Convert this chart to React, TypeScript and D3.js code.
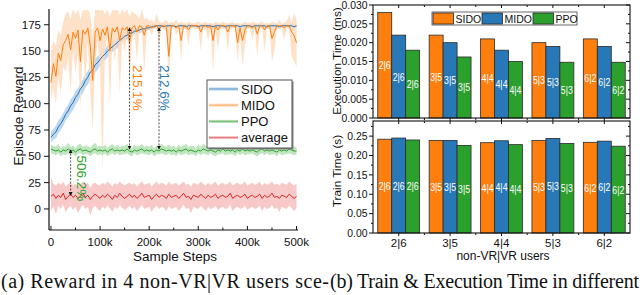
import React from "react";
import * as d3 from "d3";

// ---- left chart: episode reward vs sample steps (one value every 5k steps) ----
const steps = d3.range(101).map((i) => i * 5000);

const sidoMean = [68,71,73,78,81,85,90,93,98,101,106,109,114,117,122,125,130,132,137,139,142,145,147,150,152,154,156,158,160,162,164,165,167,167,169,169,170,171,171,172,172,173,173,174,174,174,173,174,174,174,174,173,174,174,174,173,174,174,174,174,173,174,174,174,174,174,173,174,174,174,174,173,174,174,174,174,174,173,174,174,174,174,173,174,174,174,174,174,173,174,174,174,174,173,174,174,174,174,174,173,174];
const sidoLo = [63,66,67,72,75,79,84,87,91,94,99,102,107,110,115,118,123,125,130,132,136,139,141,144,147,149,151,153,155,158,160,161,163,164,166,166,167,168,168,169,170,171,171,172,172,172,171,172,172,172,172,171,172,172,172,171,172,172,172,172,171,172,172,172,172,172,171,172,172,172,172,171,172,172,172,172,172,171,172,172,172,172,171,172,172,172,172,172,171,172,172,172,172,171,172,172,172,172,172,171,172];
const sidoHi = [74,76,79,84,87,91,96,99,104,107,112,115,120,123,128,131,136,138,143,145,148,150,152,155,157,159,161,163,164,166,168,169,170,170,172,172,173,173,174,175,175,175,175,176,176,176,175,176,176,176,176,175,176,176,176,175,176,176,176,176,175,176,176,176,176,176,175,176,176,176,176,175,176,176,176,176,176,175,176,176,176,176,175,176,176,176,176,176,175,176,176,176,176,175,176,176,176,176,176,175,176];

const midoMean = [120,138,126,148,141,156,160,166,151,168,162,170,140,170,166,172,155,122,168,172,160,171,165,173,150,172,168,173,160,172,170,173,158,172,174,168,174,173,165,174,174,172,174,174,170,174,174,173,145,174,174,172,174,160,174,174,170,174,174,174,174,168,174,174,172,174,160,174,170,174,174,174,168,174,174,174,158,172,160,170,174,174,172,174,166,174,174,170,174,174,162,168,174,174,174,172,174,174,168,165,158];
const midoLo = [105,115,100,125,110,135,130,145,110,150,130,150,95,155,120,160,110,75,140,160,130,35,150,165,100,160,140,165,110,160,150,168,120,160,170,140,170,168,130,170,171,165,171,172,155,172,171,168,120,171,172,165,171,140,172,170,155,172,172,171,172,150,172,171,160,172,130,172,150,171,172,172,150,171,172,172,140,165,135,155,171,172,160,172,145,171,172,150,172,171,140,150,172,171,172,160,172,171,145,140,135];
const midoHi = [150,160,155,170,165,178,185,188,180,190,185,190,180,190,188,190,185,165,190,190,188,190,185,190,182,190,188,190,184,190,186,190,182,188,186,184,180,190,180,182,178,180,177,186,178,177,178,180,176,178,177,180,176,178,177,176,178,177,176,177,178,176,177,178,176,177,176,178,177,176,178,177,176,177,178,176,177,176,176,178,177,176,178,177,176,177,178,176,177,176,178,177,176,180,176,177,178,185,176,186,180];

const ppoMean = [57,56,55,56,54,56,55,57,55,56,54,56,57,55,56,55,54,56,57,55,56,55,56,54,56,57,55,56,55,56,55,57,55,54,56,55,56,57,55,56,55,56,54,56,55,57,56,55,56,55,56,54,56,55,56,57,55,56,55,54,56,55,57,56,55,56,55,54,56,55,57,55,56,55,56,54,56,55,57,55,56,55,56,55,54,56,57,55,56,55,56,55,54,56,55,56,55,57,56,55,55];
const ppoLo = [53,52,51,53,50,52,51,53,52,52,50,53,53,51,52,52,50,52,53,51,52,51,53,50,52,53,51,53,51,52,52,53,51,50,53,51,52,53,52,52,51,53,50,52,52,53,52,51,53,51,52,50,53,51,52,53,51,52,52,50,53,51,53,52,51,53,51,50,52,52,53,51,52,52,52,50,53,51,53,51,52,52,53,51,50,52,53,51,53,51,52,52,50,53,51,52,52,53,52,51,52];
const ppoHi = [61,60,59,62,58,60,59,63,59,60,58,61,62,59,60,60,58,61,63,59,60,59,61,58,60,62,59,61,59,60,60,62,59,58,61,59,60,62,59,60,59,61,58,60,60,62,60,59,61,59,60,58,61,59,60,62,59,60,60,58,61,59,62,60,59,61,59,58,60,60,62,59,60,60,60,58,61,59,62,59,60,60,61,59,58,60,62,59,61,59,60,60,58,61,59,60,60,62,60,59,59];

const avgMean = [12,14,10,13,11,15,9,12,14,11,13,10,12,15,11,13,9,12,14,12,10,13,11,14,12,9,13,11,15,12,10,12,14,11,13,10,12,15,11,12,13,9,12,14,11,13,12,10,14,11,12,13,10,12,15,11,12,9,13,12,11,14,12,10,13,11,12,14,10,12,13,11,12,15,10,12,13,11,12,14,10,12,13,11,12,14,10,13,11,12,15,11,12,10,13,12,11,14,12,10,12];
const avgLo = [-2,2,-5,3,0,4,-3,1,3,-1,2,-4,1,4,0,2,-6,1,3,0,-2,2,0,3,1,-3,2,0,4,1,-1,1,3,0,2,-2,1,4,0,1,2,-3,1,3,0,2,1,-2,3,0,1,2,-2,1,4,0,1,-4,2,1,0,3,1,-2,2,0,1,3,-1,1,2,0,1,4,-2,1,2,0,1,3,-1,1,2,0,1,3,-2,2,0,1,4,0,1,-3,2,1,0,3,1,-2,1];
const avgHi = [30,24,22,25,23,26,21,24,25,22,24,21,24,26,23,25,20,24,25,23,22,25,23,26,24,21,25,23,26,24,22,24,25,23,25,21,24,26,23,24,25,21,24,26,23,25,24,22,26,23,24,25,22,24,26,23,24,21,25,24,23,26,24,22,25,23,24,26,22,24,25,23,24,26,22,24,25,23,24,26,22,24,25,23,24,26,22,25,23,24,26,23,24,22,25,24,23,26,24,22,24];

const rewardTicks = [0, 25, 50, 75, 100, 125, 150, 175];
const stepTicks = [0, 100000, 200000, 300000, 400000, 500000];
const stepTickLabels = ["0", "100k", "200k", "300k", "400k", "500k"];

// ---- right chart: execution / train time ----
const groups = ["2|6", "3|5", "4|4", "5|3", "6|2"];
const algos = ["SIDO", "MIDO", "PPO"];
const execSIDO = [0.028, 0.022, 0.021, 0.02, 0.021];
const execMIDO = [0.022, 0.02, 0.018, 0.019, 0.019];
const execPPO = [0.018, 0.0162, 0.015, 0.0148, 0.0148];
const trainSIDO = [0.242, 0.239, 0.233, 0.239, 0.234];
const trainMIDO = [0.245, 0.239, 0.238, 0.244, 0.237];
const trainPPO = [0.24, 0.226, 0.228, 0.231, 0.224];

const SANS = "Liberation Sans, Arial, sans-serif";
const SERIF = "Liberation Serif, Times New Roman, serif";

export default function App() {
  // left panel scales
  const x = d3.scaleLinear().domain([-4000, 503000]).range([49, 298]);
  const y = d3.scaleLinear().domain([-20, 189]).range([230, 10]);

  const lineOf = (vals: number[]) =>
    d3.line<number>().x((_, i) => x(steps[i])).y((d) => y(d))(vals) || "";
  const areaOf = (lo: number[], hi: number[]) =>
    d3
      .area<number>()
      .x((_, i) => x(steps[i]))
      .y0((d) => y(d))
      .y1((_, i) => y(hi[i]))(lo) || "";

  const series = [
    { name: "SIDO", mean: sidoMean, lo: sidoLo, hi: sidoHi, color: "#2070b4", light: "#b3d1ec" },
    { name: "MIDO", mean: midoMean, lo: midoLo, hi: midoHi, color: "#ff7f0e", light: "#ffdcbe" },
    { name: "PPO", mean: ppoMean, lo: ppoLo, hi: ppoHi, color: "#2ca02c", light: "#b5e0b5" },
    { name: "average", mean: avgMean, lo: avgLo, hi: avgHi, color: "#d62728", light: "#f6c0c0" },
  ];

  const arrows = [
    { step: 160000, from: 172, to: 57 },
    { step: 220000, from: 172, to: 57 },
    { step: 40000, from: 56, to: 13 },
  ];
  const notes = [
    { text: "215.1%", step: 176000, value: 115, color: "#ff7f0e" },
    { text: "212.6%", step: 231000, value: 115, color: "#2a7ab8" },
    { text: "506.2%", step: 62000, value: 29, color: "#2ca02c" },
  ];

  // right panel scales
  const gx = d3.scaleBand().domain(groups).range([373, 630]).padding(0);
  const sx = d3
    .scaleBand()
    .domain(algos)
    .range([0, gx.bandwidth()])
    .paddingInner(0)
    .paddingOuter(0.34);
  const yExec = d3.scaleLinear().domain([0, 0.03]).range([118, 5]);
  const yTrain = d3.scaleLinear().domain([0, 0.289]).range([233, 121]);
  const barColors = ["#ff7f0e", "#2878b8", "#2ca02c"];
  const legendX = [433, 482, 533];

  const panels = [
    { ys: yExec, vals: [execSIDO, execMIDO, execPPO], ticks: d3.range(0, 0.0301, 0.005), fmt: d3.format(".3f"), step: 0.0025, top: 0.03, label: "Execution Time (ms)" },
    { ys: yTrain, vals: [trainSIDO, trainMIDO, trainPPO], ticks: d3.range(0, 0.251, 0.05), fmt: d3.format(".2f"), step: 0.025, top: 0.289, label: "Train Time (s)" },
  ];

  const midTicks = groups.map((g) => (gx(g) as number) + gx.bandwidth() / 2);

  return (
    <svg width={640} height={295} style={{ position: "absolute", left: 0, top: 0, background: "#fff" }}>
      <defs>
        <clipPath id="plotL">
          <rect x={49} y={10} width={249} height={220} />
        </clipPath>
        <marker id="arr" viewBox="0 0 6 6" refX={5} refY={3} markerWidth={5} markerHeight={5} orient="auto-start-reverse">
          <path d="M0,0 L6,3 L0,6 z" fill="#111" />
        </marker>
      </defs>

      {/* ---------- left chart ---------- */}
      <g clipPath="url(#plotL)">
        {series.map((s) => (
          <path key={s.name + "b"} d={areaOf(s.lo, s.hi)} fill={s.light} opacity={0.85} />
        ))}
        {series.map((s) => (
          <path key={s.name + "l"} d={lineOf(s.mean)} fill="none" stroke={s.color} strokeWidth={1} />
        ))}
      </g>

      {arrows.map((a, i) => (
        <line
          key={i}
          x1={x(a.step)}
          x2={x(a.step)}
          y1={y(a.from)}
          y2={y(a.to)}
          stroke="#222"
          strokeWidth={0.8}
          strokeDasharray="2,1.5"
          markerStart="url(#arr)"
          markerEnd="url(#arr)"
        />
      ))}
      {notes.map((n) => (
        <text
          key={n.text}
          transform={`translate(${x(n.step)},${y(n.value)}) rotate(90)`}
          textAnchor="middle"
          dominantBaseline="central"
          fontFamily={SANS}
          fontSize={13.5}
          fill={n.color}
        >
          {n.text}
        </text>
      ))}

      {/* axes */}
      <line x1={49} x2={49} y1={9} y2={230} stroke="#111" strokeWidth={1.2} />
      <line x1={49} x2={298} y1={230} y2={230} stroke="#111" strokeWidth={1.2} />
      {rewardTicks.map((t) => (
        <g key={t}>
          <line x1={44} x2={49} y1={y(t)} y2={y(t)} stroke="#111" />
          <text x={41} y={y(t) + 4} textAnchor="end" fontFamily={SANS} fontSize={11.5} fill="#111">
            {t}
          </text>
        </g>
      ))}
      {stepTicks.map((t, i) => (
        <g key={t}>
          <line x1={x(t)} x2={x(t)} y1={230} y2={226} stroke="#111" />
          {i < 5 && <line x1={x(t + 50000)} x2={x(t + 50000)} y1={230} y2={227.5} stroke="#111" />}
          <text x={x(t)} y={245.5} textAnchor="middle" fontFamily={SANS} fontSize={11.5} fill="#111">
            {stepTickLabels[i]}
          </text>
        </g>
      ))}
      <text x={175} y={260.5} textAnchor="middle" fontFamily={SANS} fontSize={13.5} fill="#111">
        Sample Steps
      </text>
      <text transform="translate(23,116) rotate(-90)" textAnchor="middle" fontFamily={SANS} fontSize={13.5} fill="#111">
        Episode Reward
      </text>

      {/* legend */}
      <rect x={208.5} y={81.5} width={85} height={68} fill="#888" />
      <rect x={207} y={80} width={85} height={68} fill="#fff" stroke="#555" strokeWidth={1} />
      {series.map((s, i) => (
        <g key={s.name} transform={`translate(0,${89 + i * 16.2})`}>
          <line x1={209} x2={238} y1={0} y2={0} stroke={s.light} strokeWidth={3} />
          <line x1={209} x2={238} y1={0} y2={0} stroke={s.color} strokeWidth={0.8} opacity={0.6} />
          <text x={241} y={4.5} fontFamily={SANS} fontSize={13} fill="#111">
            {s.name}
          </text>
        </g>
      ))}

      {/* ---------- right chart ---------- */}
      {panels.map((p, pi) => {
        const [y0, y1] = p.ys.range();
        const minor = d3.range(0, p.top + 1e-9, p.step);
        return (
          <g key={pi}>
            {p.vals.map((vals, si) =>
              groups.map((g, gi) => {
                const bx = (gx(g) as number) + (sx(algos[si]) as number);
                const by = p.ys(vals[gi]);
                return (
                  <g key={g + si}>
                    <rect x={bx} y={by} width={sx.bandwidth()} height={y0 - by} fill={barColors[si]} stroke="#2a2a2a" strokeWidth={0.8} />
                    <text
                      x={bx + sx.bandwidth() / 2}
                      y={(by + y0) / 2 + 4}
                      textAnchor="middle"
                      fontFamily={SANS}
                      fontSize={11}
                      fill="#fff"
                      textLength={12}
                      lengthAdjust="spacingAndGlyphs"
                    >
                      {g}
                    </text>
                  </g>
                );
              })
            )}
            <rect x={373} y={y1} width={257} height={y0 - y1} fill="none" stroke="#111" strokeWidth={1.1} />
            {minor.map((t, i) => (
              <g key={i}>
                <line x1={i % 2 ? 371 : 369} x2={373} y1={p.ys(t)} y2={p.ys(t)} stroke="#111" />
                <line x1={630} x2={i % 2 ? 628 : 626} y1={p.ys(t)} y2={p.ys(t)} stroke="#111" />
              </g>
            ))}
            {p.ticks.map((t) => (
              <text key={t} x={367.5} y={p.ys(t) + 3.8} textAnchor="end" fontFamily={SANS} fontSize={10.4} fill="#111">
                {p.fmt(t)}
              </text>
            ))}
            {midTicks.map((mx, i) => (
              <g key={i}>
                <line x1={mx} x2={mx} y1={y1} y2={y1 + 3} stroke="#111" />
                <line x1={mx} x2={mx} y1={y0} y2={y0 + 3} stroke="#111" />
                {i < 4 && (
                  <>
                    <line x1={mx + gx.step() / 2} x2={mx + gx.step() / 2} y1={y1} y2={y1 + 2} stroke="#111" />
                    <line x1={mx + gx.step() / 2} x2={mx + gx.step() / 2} y1={y0} y2={y0 + 2} stroke="#111" />
                  </>
                )}
              </g>
            ))}
            <text
              transform={`translate(340.5,${pi ? 171 : 61}) rotate(-90)`}
              textAnchor="middle"
              fontFamily={SANS}
              fontSize={11.8}
              fill="#111"
            >
              {p.label}
            </text>
          </g>
        );
      })}

      {/* right legend */}
      <rect x={432} y={12} width={145} height={13} fill="#fff" stroke="#444" strokeWidth={0.8} />
      {algos.map((a, i) => (
        <g key={a} transform={`translate(${legendX[i]},13)`}>
          <rect x={0} y={0} width={20.5} height={11} fill={barColors[i]} stroke="#2a2a2a" strokeWidth={0.8} />
          <text x={22.5} y={9.5} fontFamily={SANS} fontSize={10.5} fill="#111">
            {a}
          </text>
        </g>
      ))}

      {groups.map((g) => (
        <text key={g} x={(gx(g) as number) + gx.bandwidth() / 2} y={247} textAnchor="middle" fontFamily={SANS} fontSize={11.5} fill="#111">
          {g}
        </text>
      ))}
      <text x={503} y={259.5} textAnchor="middle" fontFamily={SANS} fontSize={12} fill="#111">
        non-VR|VR users
      </text>

      {/* captions */}
      <text x={1} y={288} fontFamily={SERIF} fontSize={20} fill="#111" textLength={328} lengthAdjust="spacing">
        (a) Reward in 4 non-VR|VR users sce-
      </text>
      <text x={330} y={288} fontFamily={SERIF} fontSize={20} fill="#111" textLength={309} lengthAdjust="spacing">
        (b) Train &amp; Execution Time in different
      </text>
    </svg>
  );
}
